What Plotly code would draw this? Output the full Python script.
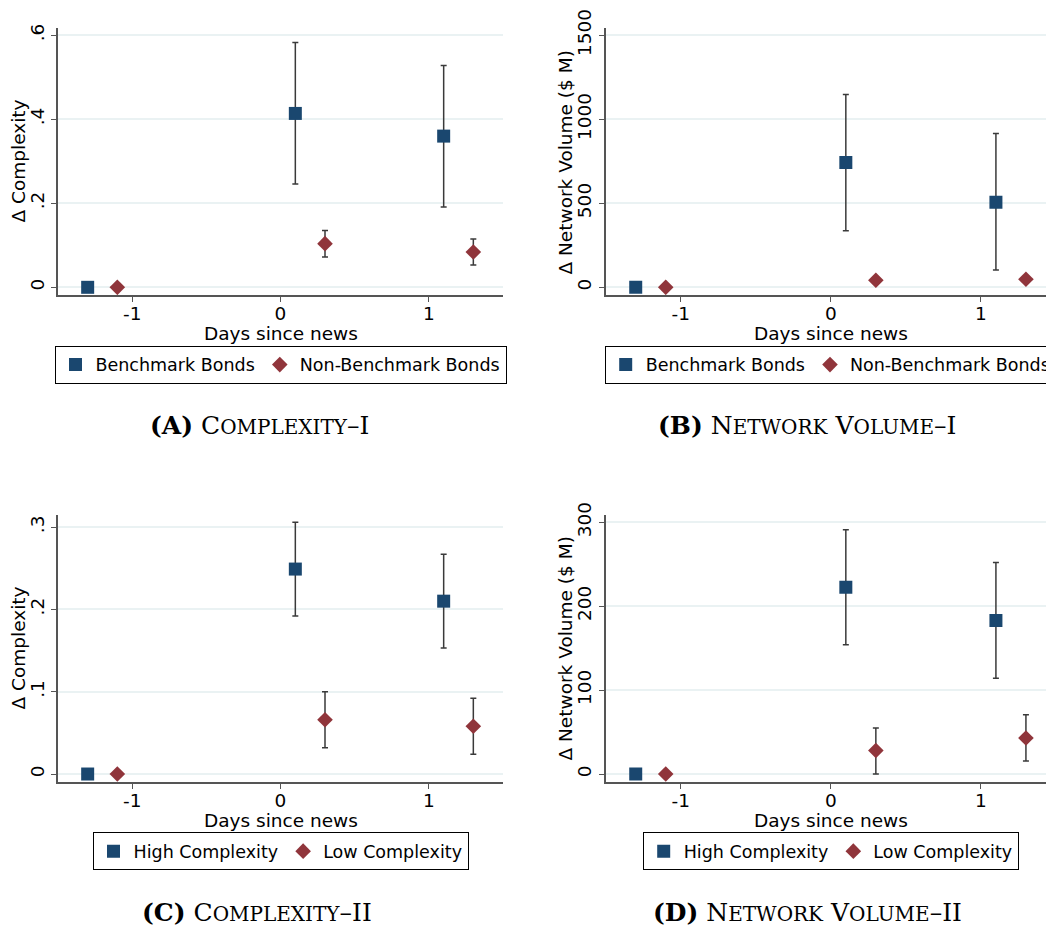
import plotly.graph_objects as go

# ---------------- data ----------------
x_group1 = [-1.3, 0.1, 1.1]
x_group2 = [-1.1, 0.3, 1.3]

# Panel A: Complexity-I
a_bench = [0.0, 0.414, 0.360]
a_bench_hi = [0.0, 0.583, 0.528]
a_bench_lo = [0.0, 0.246, 0.191]
a_nonb = [0.0, 0.104, 0.084]
a_nonb_hi = [0.0, 0.135, 0.115]
a_nonb_lo = [0.0, 0.072, 0.053]

# Panel B: Network Volume-I
b_bench = [0.0, 742, 506]
b_bench_hi = [0.0, 1147, 915]
b_bench_lo = [0.0, 337, 103]
b_nonb = [0.0, 42, 48]
b_nonb_hi = [0.0, 50, 56]
b_nonb_lo = [0.0, 34, 40]

# Panel C: Complexity-II
c_high = [0.0, 0.249, 0.210]
c_high_hi = [0.0, 0.306, 0.267]
c_high_lo = [0.0, 0.192, 0.153]
c_low = [0.0, 0.066, 0.058]
c_low_hi = [0.0, 0.100, 0.092]
c_low_lo = [0.0, 0.032, 0.024]

# Panel D: Network Volume-II
d_high = [0.0, 222.5, 183.0]
d_high_hi = [0.0, 291.0, 252.0]
d_high_lo = [0.0, 154.0, 114.0]
d_low = [0.0, 28.0, 43.0]
d_low_hi = [0.0, 55.0, 70.5]
d_low_lo = [0.0, 0.0, 15.5]

x_tickvals = [-1, 0, 1]
x_ticktext = ["-1", "0", "1"]
a_tickvals = [0, 0.2, 0.4, 0.6]
a_ticktext = ["0", ".2", ".4", ".6"]
b_tickvals = [0, 500, 1000, 1500]
b_ticktext = ["0", "500", "1000", "1500"]
c_tickvals = [0, 0.1, 0.2, 0.3]
c_ticktext = ["0", ".1", ".2", ".3"]
d_tickvals = [0, 100, 200, 300]
d_ticktext = ["0", "100", "200", "300"]

x_title = "Days since news"
y_titles = ["Δ Complexity", "Δ Network Volume ($ M)", "Δ Complexity", "Δ Network Volume ($ M)"]
legend_names_1 = ["Benchmark Bonds", "Non-Benchmark Bonds"]
legend_names_2 = ["High Complexity", "Low Complexity"]
SC = "font-size:20px"
captions = [
    f"<b>(A)</b> C<span style='{SC}'>OMPLEXITY</span>–I",
    f"<b>(B)</b> N<span style='{SC}'>ETWORK</span> V<span style='{SC}'>OLUME</span>–I",
    f"<b>(C)</b> C<span style='{SC}'>OMPLEXITY</span>–II",
    f"<b>(D)</b> N<span style='{SC}'>ETWORK</span> V<span style='{SC}'>OLUME</span>–II",
]

# ---------------- styling ----------------
OFF = 8  # browser body margin
W, H = 1054 - OFF, 928 - OFF
NAVY = "#1a476f"
MAROON = "#90353b"
ERR = "#3a3a3a"
GRID = "#eaf2f3"
AXIS = "#555555"
FONT = "DejaVu Sans"
FS = 18.5

def px_x(p):
    return (p - OFF) / W

def px_y(p):
    return 1 - (p - OFF) / H

fig = go.Figure()

def add_pair(idx, y1, hi1, lo1, y2, hi2, lo2, names):
    suffix = "" if idx == 1 else str(idx)
    leg = "legend" if idx == 1 else f"legend{idx}"
    for xs, ys, hi, lo, name, col, sym, sz in [
        (x_group1, y1, hi1, lo1, names[0], NAVY, "square", 13),
        (x_group2, y2, hi2, lo2, names[1], MAROON, "diamond", 12),
    ]:
        plus = [h - v for h, v in zip(hi, ys)]
        minus = [v - l for v, l in zip(ys, lo)]
        fig.add_trace(go.Scatter(
            x=xs, y=ys, mode="markers", name=name,
            marker=dict(symbol=sym, size=sz, color=col, line=dict(width=0)),
            error_y=dict(type="data", symmetric=False, array=plus, arrayminus=minus,
                         color=ERR, thickness=1.5, width=3),
            xaxis="x" + suffix, yaxis="y" + suffix, legend=leg,
        ))

add_pair(1, a_bench, a_bench_hi, a_bench_lo, a_nonb, a_nonb_hi, a_nonb_lo, legend_names_1)
add_pair(2, b_bench, b_bench_hi, b_bench_lo, b_nonb, b_nonb_hi, b_nonb_lo, legend_names_1)
add_pair(3, c_high, c_high_hi, c_high_lo, c_low, c_low_hi, c_low_lo, legend_names_2)
add_pair(4, d_high, d_high_hi, d_high_lo, d_low, d_low_hi, d_low_lo, legend_names_2)

panels = [
    # (x_left, x_right, y_top, y_bottom, xrange, yrange, tickvals, ticktext)
    (58, 503, 28, 295, [-1.5, 1.5], [-0.0183, 0.6174], a_tickvals, a_ticktext),
    (605.7, 1054, 28, 295, [-1.5, 1.487], [-45.8, 1543], b_tickvals, b_ticktext),
    (58, 503, 515, 782, [-1.5, 1.5], [-0.0097, 0.3147], c_tickvals, c_ticktext),
    (605.7, 1054, 515, 782, [-1.5, 1.487], [-9.5, 308.7], d_tickvals, d_ticktext),
]

layout = dict(
    width=W, height=H,
    margin=dict(l=0, r=0, t=0, b=0, autoexpand=False),
    paper_bgcolor="white", plot_bgcolor="white",
    font=dict(family=FONT, size=FS, color="black"),
    showlegend=True,
)

legend_centers = [(280.5, 364.7), (830.7, 364.7), (280.5, 851.3), (830.7, 851.3)]
ytitle_pos = [(18, 161.5), (565, 162.5), (18, 648.5), (565, 648.5)]
xtitle_pos = [(280.5, 333), (830.7, 333), (280.5, 820), (830.7, 820)]

annotations = []
for i, (xl, xr, yt, yb, xr_, yr_, tv, tt) in enumerate(panels, start=1):
    s = "" if i == 1 else str(i)
    layout["xaxis" + s] = dict(
        domain=[px_x(xl), min(1.0, px_x(xr))], range=xr_, anchor="y" + s,
        tickvals=x_tickvals, ticktext=x_ticktext,
        ticks="outside", ticklen=5, tickwidth=1.2, tickcolor=AXIS,
        showline=True, linecolor=AXIS, linewidth=2, showgrid=False, zeroline=False,
        tickfont=dict(size=FS, family=FONT), ticklabelstandoff=-4,
        automargin=False,
    )
    layout["yaxis" + s] = dict(
        domain=[px_y(yb), px_y(yt)], range=yr_, anchor="x" + s,
        tickvals=tv, ticktext=tt, tickangle=-90,
        ticks="outside", ticklen=5, tickwidth=1.2, tickcolor=AXIS,
        showline=True, linecolor=AXIS, linewidth=2,
        showgrid=True, gridcolor=GRID, gridwidth=1.5, zeroline=False,
        tickfont=dict(size=FS, family=FONT),
        automargin=False,
    )
    cx, cy = legend_centers[i - 1]
    layout["legend" if i == 1 else f"legend{i}"] = dict(
        x=px_x(cx), y=px_y(cy), xanchor="center", yanchor="middle",
        xref="paper", yref="paper",
        orientation="h", bordercolor="black", borderwidth=1,
        bgcolor="white", font=dict(size=17.5, family=FONT),
        itemwidth=30, tracegroupgap=0,
    )
    tx, ty = ytitle_pos[i - 1]
    annotations.append(dict(
        x=px_x(tx), y=px_y(ty), xref="paper", yref="paper", text=y_titles[i - 1],
        textangle=-90, showarrow=False, xanchor="center", yanchor="middle",
        font=dict(family=FONT, size=FS, color="black"),
    ))
    tx, ty = xtitle_pos[i - 1]
    annotations.append(dict(
        x=px_x(tx), y=px_y(ty), xref="paper", yref="paper", text=x_title,
        showarrow=False, xanchor="center", yanchor="middle",
        font=dict(family=FONT, size=FS, color="black"),
    ))

caption_pos = [(259, 425), (807, 425), (257, 912), (807, 912)]
for (cx, cy), txt in zip(caption_pos, captions):
    annotations.append(dict(
        x=px_x(cx), y=px_y(cy), xref="paper", yref="paper",
        text=txt, showarrow=False, xanchor="center", yanchor="middle",
        font=dict(family="DejaVu Serif", size=25, color="black"),
    ))

layout["annotations"] = annotations
fig.update_layout(**layout)

fig.write_html("out.html")
